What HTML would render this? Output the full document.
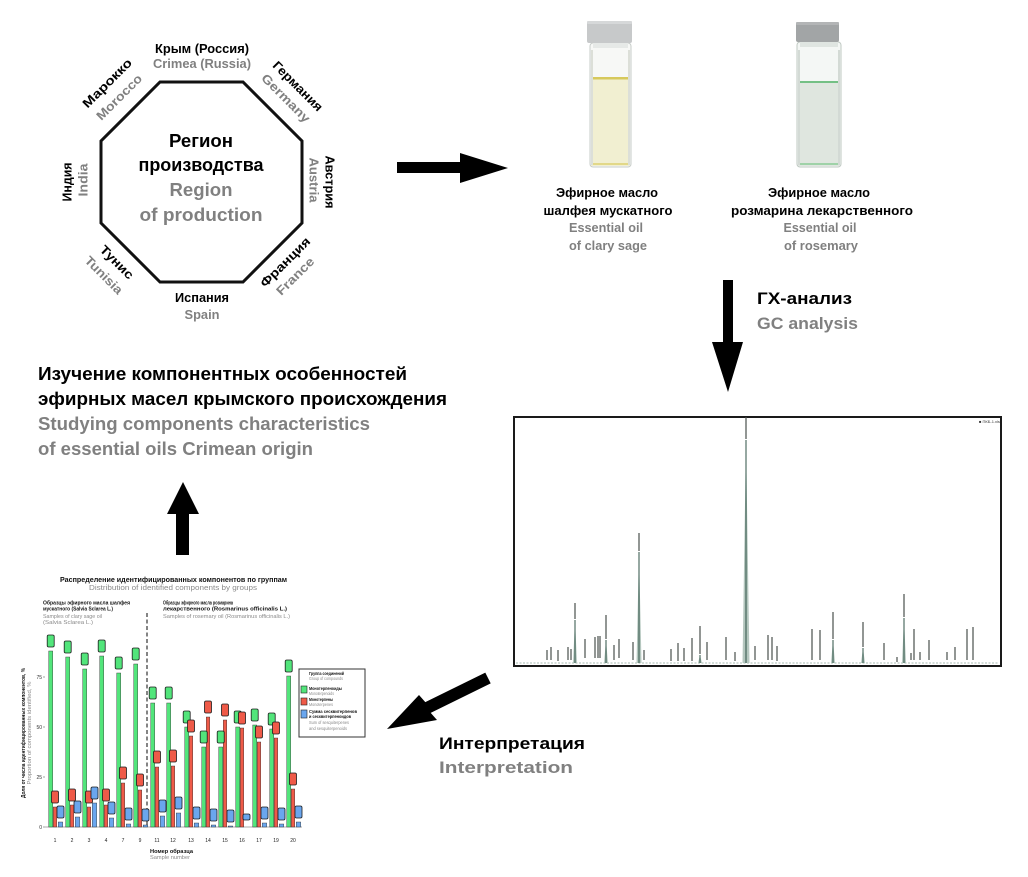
<!DOCTYPE html>
<html><head><meta charset="utf-8"><style>
html,body{margin:0;padding:0;background:#fff;}
svg{display:block;}
text{font-family:"Liberation Sans","DejaVu Sans",sans-serif;}
.b{font-weight:bold;fill:#000;}
.g{font-weight:bold;fill:#808080;}
.cb{font-weight:bold;fill:#111;}
.cg{fill:#8a8a8a;}
</style></head><body>
<svg width="1028" height="877" viewBox="0 0 1028 877" xmlns="http://www.w3.org/2000/svg">
<rect width="1028" height="877" fill="#fff"/>

<!-- Octagon -->
<polygon points="160,82 243,82 302,141 302,223 243,282 160,282 101,223 101,141" fill="#fff" stroke="#111" stroke-width="3"/>
<text class="b" x="201" y="147" font-size="18" text-anchor="middle" textLength="64" lengthAdjust="spacingAndGlyphs">Регион</text>
<text class="b" x="201" y="171" font-size="18" text-anchor="middle" textLength="125" lengthAdjust="spacingAndGlyphs">производства</text>
<text class="g" x="201" y="196" font-size="18" text-anchor="middle" textLength="63" lengthAdjust="spacingAndGlyphs">Region</text>
<text class="g" x="201" y="221" font-size="18" text-anchor="middle" textLength="123" lengthAdjust="spacingAndGlyphs">of production</text>

<!-- Country labels -->
<text class="b" x="202" y="53" font-size="12.5" text-anchor="middle" textLength="94" lengthAdjust="spacingAndGlyphs">Крым (Россия)</text>
<text class="g" x="202" y="68" font-size="12.5" text-anchor="middle" textLength="98" lengthAdjust="spacingAndGlyphs">Crimea (Russia)</text>
<text class="b" x="202" y="302" font-size="12.5" text-anchor="middle" textLength="54" lengthAdjust="spacingAndGlyphs">Испания</text>
<text class="g" x="202" y="319" font-size="12.5" text-anchor="middle" textLength="35" lengthAdjust="spacingAndGlyphs">Spain</text>

<text class="b" font-size="12.5" text-anchor="middle" dy="4.5" transform="translate(107 83) rotate(-45)" textLength="64" lengthAdjust="spacingAndGlyphs">Марокко</text>
<text class="g" font-size="12.5" text-anchor="middle" dy="4.5" transform="translate(119 97) rotate(-45)" textLength="59" lengthAdjust="spacingAndGlyphs">Morocco</text>

<text class="b" font-size="12.5" text-anchor="middle" dy="4.5" transform="translate(298 86) rotate(45)" textLength="65" lengthAdjust="spacingAndGlyphs">Германия</text>
<text class="g" font-size="12.5" text-anchor="middle" dy="4.5" transform="translate(286 98) rotate(45)" textLength="63" lengthAdjust="spacingAndGlyphs">Germany</text>

<text class="b" font-size="12.5" text-anchor="middle" dy="4.5" transform="translate(330 182) rotate(90)" textLength="53" lengthAdjust="spacingAndGlyphs">Австрия</text>
<text class="g" font-size="12.5" text-anchor="middle" dy="4.5" transform="translate(314 180) rotate(90)" textLength="45" lengthAdjust="spacingAndGlyphs">Austria</text>

<text class="b" font-size="12.5" text-anchor="middle" dy="4.5" transform="translate(67 182) rotate(-90)" textLength="39" lengthAdjust="spacingAndGlyphs">Индия</text>
<text class="g" font-size="12.5" text-anchor="middle" dy="4.5" transform="translate(83 180) rotate(-90)" textLength="33" lengthAdjust="spacingAndGlyphs">India</text>

<text class="b" font-size="12.5" text-anchor="middle" dy="4.5" transform="translate(285 262) rotate(-45)" textLength="65" lengthAdjust="spacingAndGlyphs">Франция</text>
<text class="g" font-size="12.5" text-anchor="middle" dy="4.5" transform="translate(295 276) rotate(-45)" textLength="48" lengthAdjust="spacingAndGlyphs">France</text>

<text class="b" font-size="12.5" text-anchor="middle" dy="4.5" transform="translate(117 262) rotate(45)" textLength="42" lengthAdjust="spacingAndGlyphs">Тунис</text>
<text class="g" font-size="12.5" text-anchor="middle" dy="4.5" transform="translate(104 275) rotate(45)" textLength="48" lengthAdjust="spacingAndGlyphs">Tunisia</text>

<!-- Arrows -->
<polygon points="397,162 460,162 460,153 508,168 460,183 460,173 397,173" fill="#000"/>
<polygon points="723,280 733,280 733,342 743,342 728,392 712,342 723,342" fill="#000"/>
<polygon points="176,555 189,555 189,514 199,514 183,482 167,514 176,514" fill="#000"/>
<polygon points="387,729 437,720 430.7,712.9 490.7,683.4 485.3,672.6 425.3,702.1 419,695" fill="#000"/>

<!-- Vials -->
<g>
  <rect x="590" y="43" width="41" height="124" rx="3" fill="#f7f8f6" stroke="#c7ccc9" stroke-width="1"/>
  <rect x="593" y="43" width="35" height="5" fill="#e6e9e7"/>
  <rect x="591" y="78" width="39" height="88" fill="#f1efd1"/>
  <rect x="591" y="77" width="39" height="2.5" fill="#d7c95c"/>
  <rect x="591" y="163" width="39" height="2" fill="#e2d888"/>
  <rect x="591" y="50" width="2" height="115" fill="#dcdfd8"/>
  <rect x="628" y="50" width="2" height="115" fill="#dcdfd8"/>
  <rect x="587" y="21" width="45" height="22" rx="2" fill="#c7c9ca"/>
  <rect x="587" y="21" width="45" height="3" rx="1" fill="#d6d8d9"/>
</g>
<g>
  <rect x="797" y="42" width="44" height="125" rx="3" fill="#f4f7f5" stroke="#bfc8c2" stroke-width="1"/>
  <rect x="800" y="42" width="38" height="5" fill="#dfe5e1"/>
  <rect x="798" y="82" width="42" height="84" fill="#dfe6df"/>
  <rect x="798" y="81" width="42" height="2" fill="#74c085"/>
  <rect x="798" y="163" width="42" height="2" fill="#9fd2a8"/>
  <rect x="798" y="50" width="2" height="115" fill="#d3dad5"/>
  <rect x="838" y="50" width="2" height="115" fill="#d3dad5"/>
  <rect x="796" y="22" width="43" height="20" rx="2" fill="#a2a5a6"/>
  <rect x="796" y="22" width="43" height="3" rx="1" fill="#b3b5b6"/>
</g>

<text class="b" x="607" y="197" font-size="13" text-anchor="middle" textLength="102" lengthAdjust="spacingAndGlyphs">Эфирное масло</text>
<text class="b" x="608" y="215" font-size="13" text-anchor="middle" textLength="129" lengthAdjust="spacingAndGlyphs">шалфея мускатного</text>
<text class="g" x="606" y="232" font-size="13" text-anchor="middle" textLength="74" lengthAdjust="spacingAndGlyphs">Essential oil</text>
<text class="g" x="608" y="250" font-size="13" text-anchor="middle" textLength="78" lengthAdjust="spacingAndGlyphs">of clary sage</text>

<text class="b" x="819" y="197" font-size="13" text-anchor="middle" textLength="102" lengthAdjust="spacingAndGlyphs">Эфирное масло</text>
<text class="b" x="822" y="215" font-size="13" text-anchor="middle" textLength="182" lengthAdjust="spacingAndGlyphs">розмарина лекарственного</text>
<text class="g" x="820" y="232" font-size="13" text-anchor="middle" textLength="73" lengthAdjust="spacingAndGlyphs">Essential oil</text>
<text class="g" x="821" y="250" font-size="13" text-anchor="middle" textLength="74" lengthAdjust="spacingAndGlyphs">of rosemary</text>

<!-- GC label -->
<text class="b" x="757" y="304" font-size="17" textLength="95" lengthAdjust="spacingAndGlyphs">ГХ-анализ</text>
<text class="g" x="757" y="329" font-size="17" textLength="101" lengthAdjust="spacingAndGlyphs">GC analysis</text>

<!-- Heading left -->
<text class="b" x="38" y="380" font-size="18" textLength="369" lengthAdjust="spacingAndGlyphs">Изучение компонентных особенностей</text>
<text class="b" x="38" y="405" font-size="18" textLength="409" lengthAdjust="spacingAndGlyphs">эфирных масел крымского происхождения</text>
<text class="g" x="38" y="430" font-size="18" textLength="332" lengthAdjust="spacingAndGlyphs">Studying components characteristics</text>
<text class="g" x="38" y="455" font-size="18" textLength="275" lengthAdjust="spacingAndGlyphs">of essential oils Crimean origin</text>

<!-- Interpretation -->
<text class="b" x="439" y="749" font-size="17" textLength="146" lengthAdjust="spacingAndGlyphs">Интерпретация</text>
<text class="g" x="439" y="773" font-size="17" textLength="134" lengthAdjust="spacingAndGlyphs">Interpretation</text>

<!-- Chromatogram -->
<rect x="514" y="417" width="487" height="249" fill="#fff" stroke="#1a1a1a" stroke-width="2"/>
<line x1="516" y1="663" x2="999" y2="663" stroke="#a9bcb3" stroke-width="1" stroke-dasharray="2 1.5"/>
<text x="979" y="423" font-size="4" fill="#333">■ ПКБ-1.xls</text>
<g fill="#b5c7bf">
  <polygon points="573,663 575,620 577,663"/>
  <polygon points="604,663 606,640 608,663"/>
  <polygon points="636.5,663 639,552 641.5,663"/>
  <polygon points="698,663 700,655 702,663"/>
  <polygon points="742.5,663 746,440 749.5,663"/>
  <polygon points="831,663 833,640 835,663"/>
  <polygon points="861,663 863,648 865,663"/>
  <polygon points="902,663 904,618 906,663"/>
</g>
<g stroke="#2d5246" stroke-width="1">
  <line x1="575" y1="620" x2="575" y2="663"/>
  <line x1="606" y1="640" x2="606" y2="663"/>
  <line x1="639" y1="552" x2="639" y2="663"/>
  <line x1="700" y1="655" x2="700" y2="663"/>
  <line x1="746" y1="440" x2="746" y2="663"/>
  <line x1="833" y1="640" x2="833" y2="663"/>
  <line x1="863" y1="648" x2="863" y2="663"/>
  <line x1="904" y1="618" x2="904" y2="663"/>
</g>
<g stroke="#4a4f4d" stroke-width="1.2">
  <line x1="547" y1="650" x2="547" y2="660"/>
  <line x1="551" y1="647" x2="551" y2="660"/>
  <line x1="558" y1="650" x2="558" y2="661"/>
  <line x1="568" y1="647" x2="568" y2="660"/>
  <line x1="571" y1="649" x2="571" y2="660"/>
  <line x1="575" y1="603" x2="575" y2="619"/>
  <line x1="585" y1="639" x2="585" y2="658"/>
  <line x1="595" y1="637" x2="595" y2="658"/>
  <line x1="598" y1="636" x2="598" y2="658"/>
  <line x1="600" y1="636" x2="600" y2="658"/>
  <line x1="606" y1="615" x2="606" y2="639"/>
  <line x1="614" y1="645" x2="614" y2="660"/>
  <line x1="619" y1="639" x2="619" y2="658"/>
  <line x1="633" y1="642" x2="633" y2="660"/>
  <line x1="639" y1="533" x2="639" y2="551"/>
  <line x1="644" y1="650" x2="644" y2="660"/>
  <line x1="671" y1="649" x2="671" y2="661"/>
  <line x1="678" y1="643" x2="678" y2="661"/>
  <line x1="684" y1="648" x2="684" y2="661"/>
  <line x1="692" y1="638" x2="692" y2="661"/>
  <line x1="700" y1="626" x2="700" y2="654"/>
  <line x1="707" y1="642" x2="707" y2="660"/>
  <line x1="726" y1="637" x2="726" y2="660"/>
  <line x1="735" y1="652" x2="735" y2="661"/>
  <line x1="746" y1="417" x2="746" y2="439"/>
  <line x1="755" y1="646" x2="755" y2="660"/>
  <line x1="768" y1="635" x2="768" y2="660"/>
  <line x1="772" y1="637" x2="772" y2="660"/>
  <line x1="777" y1="646" x2="777" y2="661"/>
  <line x1="812" y1="629" x2="812" y2="660"/>
  <line x1="820" y1="630" x2="820" y2="660"/>
  <line x1="833" y1="612" x2="833" y2="639"/>
  <line x1="863" y1="622" x2="863" y2="647"/>
  <line x1="884" y1="643" x2="884" y2="660"/>
  <line x1="897" y1="657" x2="897" y2="662"/>
  <line x1="904" y1="594" x2="904" y2="617"/>
  <line x1="911" y1="653" x2="911" y2="660"/>
  <line x1="914" y1="629" x2="914" y2="660"/>
  <line x1="920" y1="652" x2="920" y2="660"/>
  <line x1="929" y1="640" x2="929" y2="660"/>
  <line x1="947" y1="652" x2="947" y2="660"/>
  <line x1="955" y1="647" x2="955" y2="660"/>
  <line x1="967" y1="629" x2="967" y2="660"/>
  <line x1="973" y1="627" x2="973" y2="660"/>
</g>

<!-- Bar chart -->
<text class="cb" x="60" y="582" font-size="7" textLength="227" lengthAdjust="spacingAndGlyphs">Распределение идентифицированных компонентов по группам</text>
<text class="cg" x="89" y="590" font-size="7" textLength="168" lengthAdjust="spacingAndGlyphs">Distribution of identified components by groups</text>

<text class="cb" x="43" y="604.5" font-size="5.5" textLength="87" lengthAdjust="spacingAndGlyphs">Образцы эфирного масла шалфея</text>
<text class="cb" x="43" y="610.5" font-size="5.5" textLength="70" lengthAdjust="spacingAndGlyphs">мускатного (Salvia Sclarea L.)</text>
<text class="cg" x="43" y="618" font-size="5.5" textLength="59" lengthAdjust="spacingAndGlyphs">Samples of clary sage oil</text>
<text class="cg" x="43" y="624" font-size="5.5" textLength="50" lengthAdjust="spacingAndGlyphs">(Salvia Sclarea L.)</text>

<text class="cb" x="163" y="604.5" font-size="5.5" textLength="70" lengthAdjust="spacingAndGlyphs">Образцы эфирного масла розмарина</text>
<text class="cb" x="163" y="610.5" font-size="5.5" textLength="124" lengthAdjust="spacingAndGlyphs">лекарственного (Rosmarinus officinalis L.)</text>
<text class="cg" x="163" y="618" font-size="5.5" textLength="127" lengthAdjust="spacingAndGlyphs">Samples of rosemary oil (Rosmarinus officinalis L.)</text>

<line x1="147" y1="613" x2="147" y2="827" stroke="#333" stroke-width="1.2" stroke-dasharray="4 2.5"/>

<text class="cb" font-size="5.5" text-anchor="middle" dy="2" transform="translate(23 733) rotate(-90)" textLength="130" lengthAdjust="spacingAndGlyphs">Доля от числа идентифицированных компонентов, %</text>
<text class="cg" font-size="5.5" text-anchor="middle" dy="2" transform="translate(29 733) rotate(-90)" textLength="103" lengthAdjust="spacingAndGlyphs">Proportion of components identified, %</text>

<g font-size="5" fill="#333" text-anchor="end">
  <text x="42" y="679">75</text>
  <text x="42" y="729">50</text>
  <text x="42" y="779">25</text>
  <text x="42" y="829">0</text>
</g>
<g stroke="#666" stroke-width="0.6">
  <line x1="43" y1="677" x2="45" y2="677"/>
  <line x1="43" y1="727" x2="45" y2="727"/>
  <line x1="43" y1="777" x2="45" y2="777"/>
  <line x1="43" y1="827" x2="45" y2="827"/>
</g>
<line x1="45" y1="827" x2="302" y2="827" stroke="#8f8f8f" stroke-width="0.8"/>

<!-- bars -->
<g stroke="#2a2a2a" stroke-width="0.4">
<g fill="#52e57b">
  <rect x="48.7" y="651" width="4" height="176"/>
  <rect x="65.7" y="657" width="4" height="170"/>
  <rect x="82.7" y="669" width="4" height="158"/>
  <rect x="99.7" y="656" width="4" height="171"/>
  <rect x="116.7" y="673" width="4" height="154"/>
  <rect x="133.7" y="664" width="4" height="163"/>
  <rect x="150.7" y="703" width="4" height="124"/>
  <rect x="166.7" y="703" width="4" height="124"/>
  <rect x="184.7" y="727" width="4" height="100"/>
  <rect x="201.7" y="747" width="4" height="80"/>
  <rect x="218.7" y="747" width="4" height="80"/>
  <rect x="235.7" y="727" width="4" height="100"/>
  <rect x="252.7" y="725" width="4" height="102"/>
  <rect x="269.7" y="729" width="4" height="98"/>
  <rect x="286.7" y="676" width="4" height="151"/>
</g>
<g fill="#ef5a48">
  <rect x="53.2" y="807" width="3.6" height="20"/>
  <rect x="70.2" y="805" width="3.6" height="22"/>
  <rect x="87.2" y="807" width="3.6" height="20"/>
  <rect x="104.2" y="805" width="3.6" height="22"/>
  <rect x="121.2" y="783" width="3.6" height="44"/>
  <rect x="138.2" y="790" width="3.6" height="37"/>
  <rect x="155.2" y="767" width="3.6" height="60"/>
  <rect x="171.2" y="766" width="3.6" height="61"/>
  <rect x="189.2" y="736" width="3.6" height="91"/>
  <rect x="206.2" y="717" width="3.6" height="110"/>
  <rect x="223.2" y="720" width="3.6" height="107"/>
  <rect x="240.2" y="728" width="3.6" height="99"/>
  <rect x="257.2" y="742" width="3.6" height="85"/>
  <rect x="274.2" y="738" width="3.6" height="89"/>
  <rect x="291.2" y="789" width="3.6" height="38"/>
</g>
<g fill="#6aa6ee">
  <rect x="58.2" y="822" width="4.5" height="5"/>
  <rect x="75.2" y="817" width="4.5" height="10"/>
  <rect x="92.2" y="803" width="4.5" height="24"/>
  <rect x="109.2" y="818" width="4.5" height="9"/>
  <rect x="126.2" y="824" width="4.5" height="3"/>
  <rect x="143.2" y="825" width="4.5" height="2"/>
  <rect x="160.2" y="816" width="4.5" height="11"/>
  <rect x="176.2" y="813" width="4.5" height="14"/>
  <rect x="194.2" y="823" width="4.5" height="4"/>
  <rect x="211.2" y="825" width="4.5" height="2"/>
  <rect x="228.2" y="826" width="4.5" height="1"/>
  <rect x="262.2" y="823" width="4.5" height="4"/>
  <rect x="279.2" y="824" width="4.5" height="3"/>
  <rect x="296.2" y="822" width="4.5" height="5"/>
</g>
</g>

<!-- value labels -->
<g stroke="#1d1d1d" stroke-width="0.8">
<g fill="#52e57b">
  <rect x="47.2" y="635" width="7" height="12" rx="1.5"/>
  <rect x="64.2" y="641" width="7" height="12" rx="1.5"/>
  <rect x="81.2" y="653" width="7" height="12" rx="1.5"/>
  <rect x="98.2" y="640" width="7" height="12" rx="1.5"/>
  <rect x="115.2" y="657" width="7" height="12" rx="1.5"/>
  <rect x="132.2" y="648" width="7" height="12" rx="1.5"/>
  <rect x="149.2" y="687" width="7" height="12" rx="1.5"/>
  <rect x="165.2" y="687" width="7" height="12" rx="1.5"/>
  <rect x="183.2" y="711" width="7" height="12" rx="1.5"/>
  <rect x="200.2" y="731" width="7" height="12" rx="1.5"/>
  <rect x="217.2" y="731" width="7" height="12" rx="1.5"/>
  <rect x="234.2" y="711" width="7" height="12" rx="1.5"/>
  <rect x="251.2" y="709" width="7" height="12" rx="1.5"/>
  <rect x="268.2" y="713" width="7" height="12" rx="1.5"/>
  <rect x="285.2" y="660" width="7" height="12" rx="1.5"/>
</g>
<g fill="#ef5a48">
  <rect x="51.5" y="791" width="7" height="12" rx="1.5"/>
  <rect x="68.5" y="789" width="7" height="12" rx="1.5"/>
  <rect x="85.5" y="791" width="7" height="12" rx="1.5"/>
  <rect x="102.5" y="789" width="7" height="12" rx="1.5"/>
  <rect x="119.5" y="767" width="7" height="12" rx="1.5"/>
  <rect x="136.5" y="774" width="7" height="12" rx="1.5"/>
  <rect x="153.5" y="751" width="7" height="12" rx="1.5"/>
  <rect x="169.5" y="750" width="7" height="12" rx="1.5"/>
  <rect x="187.5" y="720" width="7" height="12" rx="1.5"/>
  <rect x="204.5" y="701" width="7" height="12" rx="1.5"/>
  <rect x="221.5" y="704" width="7" height="12" rx="1.5"/>
  <rect x="238.5" y="712" width="7" height="12" rx="1.5"/>
  <rect x="255.5" y="726" width="7" height="12" rx="1.5"/>
  <rect x="272.5" y="722" width="7" height="12" rx="1.5"/>
  <rect x="289.5" y="773" width="7" height="12" rx="1.5"/>
</g>
<g fill="#6aa6ee">
  <rect x="57" y="806" width="7" height="12" rx="1.5"/>
  <rect x="74" y="801" width="7" height="12" rx="1.5"/>
  <rect x="91" y="787" width="7" height="12" rx="1.5"/>
  <rect x="108" y="802" width="7" height="12" rx="1.5"/>
  <rect x="125" y="808" width="7" height="12" rx="1.5"/>
  <rect x="142" y="809" width="7" height="12" rx="1.5"/>
  <rect x="159" y="800" width="7" height="12" rx="1.5"/>
  <rect x="175" y="797" width="7" height="12" rx="1.5"/>
  <rect x="193" y="807" width="7" height="12" rx="1.5"/>
  <rect x="210" y="809" width="7" height="12" rx="1.5"/>
  <rect x="227" y="810" width="7" height="12" rx="1.5"/>
  <rect x="243" y="814" width="7" height="6" rx="1.5"/>
  <rect x="261" y="807" width="7" height="12" rx="1.5"/>
  <rect x="278" y="808" width="7" height="12" rx="1.5"/>
  <rect x="295" y="806" width="7" height="12" rx="1.5"/>
</g>
</g>

<g font-size="5" fill="#222" text-anchor="middle">
  <text x="55" y="842">1</text>
  <text x="72" y="842">2</text>
  <text x="89" y="842">3</text>
  <text x="106" y="842">4</text>
  <text x="123" y="842">7</text>
  <text x="140" y="842">9</text>
  <text x="157" y="842">11</text>
  <text x="173" y="842">12</text>
  <text x="191" y="842">13</text>
  <text x="208" y="842">14</text>
  <text x="225" y="842">15</text>
  <text x="242" y="842">16</text>
  <text x="259" y="842">17</text>
  <text x="276" y="842">19</text>
  <text x="293" y="842">20</text>
</g>
<text class="cb" x="150" y="853" font-size="5.5" textLength="43" lengthAdjust="spacingAndGlyphs">Номер образца</text>
<text class="cg" x="150" y="859" font-size="5.5" textLength="40" lengthAdjust="spacingAndGlyphs">Sample number</text>

<!-- legend -->
<rect x="299" y="669" width="66" height="68" fill="#fff" stroke="#333" stroke-width="1"/>
<text class="cb" x="309" y="675" font-size="4.5" textLength="35" lengthAdjust="spacingAndGlyphs">Группа соединений</text>
<text class="cg" x="309" y="680" font-size="4.5" textLength="34" lengthAdjust="spacingAndGlyphs">Group of compounds</text>
<rect x="301" y="686" width="6" height="7" fill="#52e57b" stroke="#222" stroke-width="0.6"/>
<text class="cb" x="309" y="690" font-size="4.5" textLength="33" lengthAdjust="spacingAndGlyphs">Монотерпеноиды</text>
<text class="cg" x="309" y="695" font-size="4.5" textLength="25" lengthAdjust="spacingAndGlyphs">Monoterpenoids</text>
<rect x="301" y="698" width="6" height="7" fill="#ef5a48" stroke="#222" stroke-width="0.6"/>
<text class="cb" x="309" y="701" font-size="4.5" textLength="24" lengthAdjust="spacingAndGlyphs">Монотерпены</text>
<text class="cg" x="309" y="706" font-size="4.5" textLength="24" lengthAdjust="spacingAndGlyphs">Monoterpenes</text>
<rect x="301" y="710" width="6" height="8" fill="#6aa6ee" stroke="#222" stroke-width="0.6"/>
<text class="cb" x="309" y="713" font-size="4.5" textLength="48" lengthAdjust="spacingAndGlyphs">Сумма сесквитерпенов</text>
<text class="cb" x="309" y="718" font-size="4.5" textLength="42" lengthAdjust="spacingAndGlyphs">и сесквитерпеноидов</text>
<text class="cg" x="309" y="724" font-size="4.5" textLength="40" lengthAdjust="spacingAndGlyphs">Sum of sesquiterpenes</text>
<text class="cg" x="309" y="730" font-size="4.5" textLength="38" lengthAdjust="spacingAndGlyphs">and sesquiterpenoids</text>
</svg>
</body></html>
